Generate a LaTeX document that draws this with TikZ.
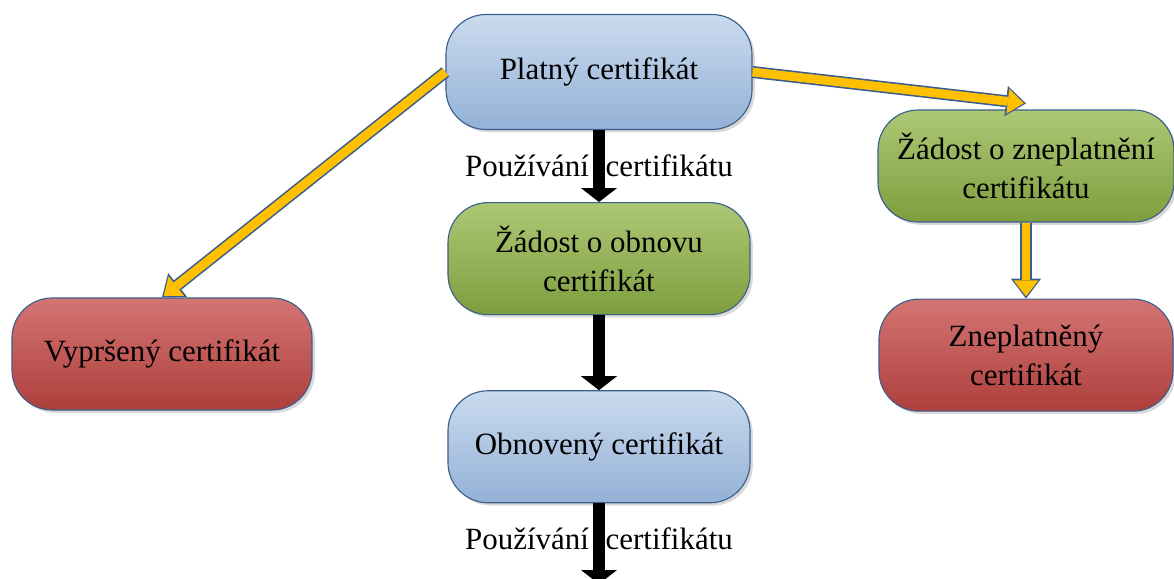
\documentclass[tikz,border=0pt]{standalone}
\usepackage{fontspec}
\setmainfont{Liberation Serif}
\usepackage{xcolor}
\usepackage{tikz}
\usetikzlibrary{arrows.meta, positioning, calc, shadows}

\definecolor{bluetop}{HTML}{CBDBEF}
\definecolor{bluebot}{HTML}{93B1D6}
\definecolor{greentop}{HTML}{ADC875}
\definecolor{greenbot}{HTML}{7E9E3E}
\definecolor{redtop}{HTML}{D47573}
\definecolor{redbot}{HTML}{AD3F3C}
\definecolor{edgeblue}{HTML}{3B5E8C}
\definecolor{arrowyellow}{HTML}{FFC000}

\begin{document}
\begin{tikzpicture}[
    box/.style={draw=edgeblue, line width=0.8pt, rounded corners=1cm,
        minimum width=7.55cm, minimum height=2.8cm, align=center,
        font=\fontsize{22}{28}\selectfont,
        drop shadow={opacity=0.3, shadow xshift=0.07cm, shadow yshift=-0.07cm}},
    bluebox/.style={box, top color=bluetop, bottom color=bluebot},
    greenbox/.style={box, top color=greentop, bottom color=greenbot},
    redbox/.style={box, top color=redtop, bottom color=redbot},
    usearrow/.style={line width=0.3cm, black,
        -{Triangle[length=0.35cm, width=0.9cm, line width=0pt]}},
    statearrow/.style={line width=0.22cm, arrowyellow, shorten >=1.6pt,
        -{Triangle[length=0.4cm, width=0.62cm, line width=0pt]},
        preaction={draw=edgeblue, line width=0.3cm, shorten >=0pt,
            -{Triangle[length=0.5cm, width=0.76cm, line width=0pt]}}},
    lbl/.style={font=\fontsize{22}{28}\selectfont}
]
\useasboundingbox (-14.975,1.8) rectangle (14.375,-12.65);

% Nodes
\node[bluebox, minimum width=7.65cm, minimum height=2.875cm] (platny) at (0,0) {Platný certifikát};
\node[greenbox, below=1.8cm of platny] (obnova) {Žádost o obnovu\\certifikát};
\node[bluebox, below=1.875cm of obnova] (obnoveny) {Obnovený certifikát};
\node[redbox, minimum width=7.5cm] (vyprseny) at (-10.925,-7.05) {Vypršený certifikát};
\node[greenbox, minimum width=7.4cm] (zadost) at (10.675,-2.35) {Žádost o zneplatnění\\certifikátu};
\node[redbox, minimum width=7.35cm, below=1.9cm of zadost] (zneplatneny) {Zneplatněný\\certifikát};
\coordinate (konec) at (0,-12.8);

% Use of the certificate
\draw[usearrow] (platny) -- node[lbl] {Používání\hspace{0.42cm}certifikátu} (obnova);
\draw[usearrow] (obnova) -- (obnoveny);
\draw[usearrow] (obnoveny) -- node[lbl, pos=0.44] {Používání\hspace{0.42cm}certifikátu} (konec);

% Expiry and revocation
\draw[statearrow] (platny.west) -- (vyprseny.north);
\draw[statearrow] (platny.east) -- ($(zadost.north)+(0,0.15)$);
\draw[statearrow] (zadost) -- (zneplatneny);

\end{tikzpicture}
\end{document}
